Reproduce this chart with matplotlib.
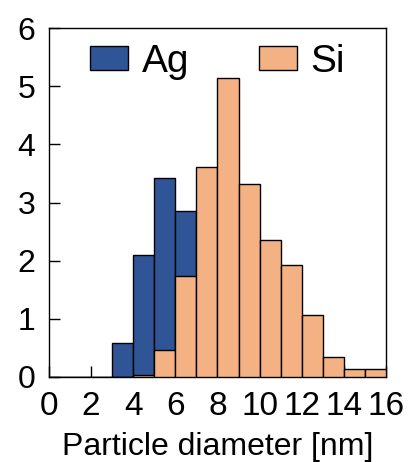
import numpy as np
from matplotlib import pyplot as plt

plt.rcParams['font.family'] = ['Liberation Sans', 'DejaVu Sans']

# bin left edges (nm), bins of width 1
bin_left = list(range(0, 16))
ag_height = [0, 0, 0, 0.59, 2.10, 3.42, 2.86, 0, 0, 0, 0, 0, 0, 0, 0, 0]
si_height = [0, 0, 0, 0, 0.04, 0.47, 1.73, 3.62, 5.15, 3.32, 2.35, 1.92, 1.06, 0.34, 0.14, 0.14]

x_ticks = list(range(0, 17, 2))
y_ticks = list(range(0, 7))

fig = plt.figure(figsize=(4.08, 4.62), dpi=100)
ax = fig.add_axes([0.120, 0.184, 0.826, 0.755])

ax.bar(bin_left, ag_height, width=1, align='edge', color='#2F5597',
       edgecolor='black', linewidth=1.0, label='Ag', zorder=2)
ax.bar(bin_left, si_height, width=1, align='edge', color='#F4B183',
       edgecolor='black', linewidth=1.0, label='Si', zorder=3)

ax.set_xlim(0, 16)
ax.set_ylim(0, 6)
ax.set_xticks(x_ticks)
ax.set_yticks(y_ticks)
ax.set_axisbelow(True)
ax.tick_params(axis='both', direction='in', length=8, width=1)
ax.tick_params(axis='x', top=False, labelsize=24, pad=10)
ax.tick_params(axis='y', right=False, labelsize=23, pad=10)
for s in ax.spines.values():
    s.set_linewidth(1.0)

ax.set_xlabel('Particle diameter [nm]', fontsize=23, labelpad=7)

ax.legend(loc='upper center', ncol=2, frameon=False, fontsize=28,
          handlelength=0.98, handleheight=0.55, handletextpad=0.35,
          columnspacing=1.8, borderaxespad=0.0, bbox_to_anchor=(0.5, 1.0))

fig.savefig('out.png', dpi=100)
